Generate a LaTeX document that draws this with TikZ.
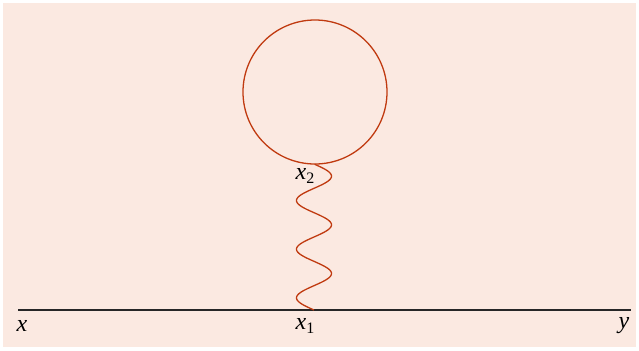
\documentclass[tikz,border=0pt]{standalone}
\usepackage{fontspec}
\setmainfont{Liberation Serif}
\usepackage{tikz}
\usetikzlibrary{positioning}
\definecolor{paper}{HTML}{FBE9E1}
\definecolor{loopred}{HTML}{C03A10}
\newcommand{\pt}[2]{\textit{#1}\raisebox{-0.45ex}{\footnotesize #2}}

\begin{document}
\begin{tikzpicture}[x=0.5pt,y=-0.5pt, lbl/.style={inner sep=0pt,font=\large}, prop/.style={draw=black!85,line width=0.75pt}, boson/.style={draw=loopred,line width=0.65pt}]
\useasboundingbox (0,0) rectangle (639,350);
\fill[paper] (3,3) rectangle (636,347);
\coordinate (x) at (18,310);
\coordinate (y) at (631,310);
\draw[loopred,line width=0.65pt] (315,92) circle[radius=72];
\draw[prop] (x) -- (y);
\draw[boson] plot[domain=0:1,samples=150,smooth] ({314-17.5*sin(1080*\x)},{310-146*\x});
\node[lbl] (lx) at (22,326) {\textit{x}};
\node[lbl] (ly) at (624,326) {\textit{y}};
\node[lbl] (lx1) at (305,326) {\pt{x}{1}};
\node[lbl] (lx2) at (305,176) {\pt{x}{2}};
\end{tikzpicture}
\end{document}
